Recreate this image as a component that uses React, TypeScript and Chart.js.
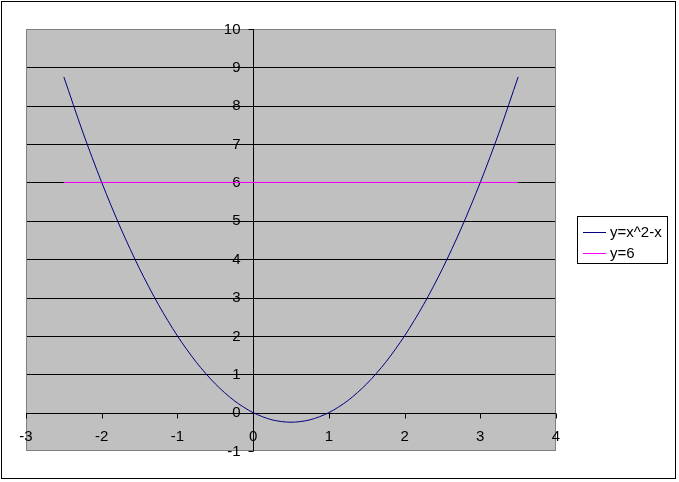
import React, { useEffect, useRef } from "react";
import { Chart, registerables } from "chart.js";

Chart.register(...registerables);

const xValues = [-2.5, -2.25, -2, -1.75, -1.5, -1.25, -1, -0.75, -0.5, -0.25, 0, 0.25, 0.5, 0.75, 1, 1.25, 1.5, 1.75, 2, 2.25, 2.5, 2.75, 3, 3.25, 3.5];
const curveValues = [8.75, 7.3125, 6, 4.8125, 3.75, 2.8125, 2, 1.3125, 0.75, 0.3125, 0, -0.1875, -0.25, -0.1875, 0, 0.3125, 0.75, 1.3125, 2, 2.8125, 3.75, 4.8125, 6, 7.3125, 8.75];
const lineX = [-2.5, 3.5];
const lineValues = [6, 6];
const xTicks = [-3, -2, -1, 0, 1, 2, 3, 4];
const yTicks = [-1, 0, 1, 2, 3, 4, 5, 6, 7, 8, 9, 10];
const seriesLabels = ["y=x^2-x", "y=6"];
const seriesColors = ["#000080", "#FF00FF"];

const FONT = '15px "Liberation Sans", Arial, sans-serif';

const excelPlugin = {
  id: "excelLook",
  beforeDraw(chart: any) {
    const ctx = chart.ctx;
    const { left, right, top, bottom } = chart.chartArea;
    ctx.save();
    ctx.fillStyle = "#ffffff";
    ctx.fillRect(0, 0, chart.width, chart.height);
    ctx.strokeStyle = "#000000";
    ctx.lineWidth = 1;
    ctx.strokeRect(1.5, 1.5, 674, 477);
    ctx.fillStyle = "#C0C0C0";
    ctx.fillRect(left, top, right - left, bottom - top);
    ctx.restore();
  },
  beforeDatasetsDraw(chart: any) {
    const ctx = chart.ctx;
    const xs = chart.scales.x;
    const ys = chart.scales.y;
    const { left, right, top, bottom } = chart.chartArea;
    ctx.save();
    ctx.lineWidth = 1;
    // gridlines
    ctx.strokeStyle = "#000000";
    yTicks.forEach((v) => {
      if (v <= ys.min || v >= ys.max) return;
      const py = Math.round(ys.getPixelForValue(v)) + 0.5;
      ctx.beginPath();
      ctx.moveTo(left, py);
      ctx.lineTo(right, py);
      ctx.stroke();
    });
    // plot border
    ctx.strokeStyle = "#808080";
    ctx.strokeRect(Math.round(left) + 0.5, Math.round(top) + 0.5, Math.round(right - left) - 1, Math.round(bottom - top) - 1);
    // axes
    const ax = Math.round(xs.getPixelForValue(0)) + 0.5;
    const ay = Math.round(ys.getPixelForValue(0)) + 0.5;
    ctx.strokeStyle = "#000000";
    ctx.beginPath();
    ctx.moveTo(ax, top);
    ctx.lineTo(ax, bottom);
    ctx.moveTo(left, ay);
    ctx.lineTo(right, ay);
    ctx.stroke();
    // tick marks
    ctx.beginPath();
    yTicks.forEach((v) => {
      const py = Math.round(ys.getPixelForValue(v)) + 0.5;
      ctx.moveTo(ax - 5, py);
      ctx.lineTo(ax, py);
    });
    xTicks.forEach((v) => {
      const px = Math.round(xs.getPixelForValue(v)) + 0.5;
      ctx.moveTo(px, ay);
      ctx.lineTo(px, ay + 5);
    });
    ctx.stroke();
    // labels
    ctx.fillStyle = "#000000";
    ctx.font = FONT;
    ctx.textAlign = "right";
    ctx.textBaseline = "middle";
    yTicks.forEach((v) => {
      ctx.fillText(String(v), ax - 13, ys.getPixelForValue(v) + 0.5);
    });
    ctx.textAlign = "center";
    xTicks.forEach((v) => {
      ctx.fillText(String(v), xs.getPixelForValue(v), ay + 23);
    });
    ctx.restore();
  },
  afterDraw(chart: any) {
    const ctx = chart.ctx;
    ctx.save();
    ctx.strokeStyle = "#000000";
    ctx.lineWidth = 1;
    ctx.strokeRect(577.5, 216.5, 90, 47);
    ctx.font = FONT;
    ctx.textAlign = "left";
    ctx.textBaseline = "middle";
    seriesLabels.forEach((label, i) => {
      const y = 232.5 + i * 21;
      ctx.strokeStyle = seriesColors[i];
      ctx.beginPath();
      ctx.moveTo(583, y);
      ctx.lineTo(606, y);
      ctx.stroke();
      ctx.fillStyle = "#000000";
      ctx.fillText(label, 610, y);
    });
    ctx.restore();
  },
};

export default function App() {
  const ref = useRef<HTMLCanvasElement | null>(null);
  useEffect(() => {
    if (!ref.current) return;
    const chart = new Chart(ref.current, {
      type: "scatter",
      data: {
        datasets: [
          {
            label: seriesLabels[0],
            data: xValues.map((x, i) => ({ x, y: curveValues[i] })),
            showLine: true,
            borderColor: seriesColors[0],
            borderWidth: 1,
            pointRadius: 0,
            tension: 0.3,
          },
          {
            label: seriesLabels[1],
            data: lineX.map((x, i) => ({ x, y: lineValues[i] })),
            showLine: true,
            borderColor: seriesColors[1],
            borderWidth: 1,
            pointRadius: 0,
          },
        ],
      },
      options: {
        responsive: false,
        animation: false,
        layout: { padding: { left: 26, top: 29, right: 123, bottom: 31 } },
        scales: {
          x: { type: "linear", min: -3, max: 4, display: false },
          y: { type: "linear", min: -1, max: 10, display: false },
        },
        plugins: { legend: { display: false }, tooltip: { enabled: false } },
      },
      plugins: [excelPlugin],
    });
    return () => chart.destroy();
  }, []);
  return (
    <div style={{ position: "fixed", left: 0, top: 0, width: 679, height: 482 }}>
      <canvas ref={ref} width={679} height={482} style={{ display: "block", width: 679, height: 482 }} />
    </div>
  );
}
